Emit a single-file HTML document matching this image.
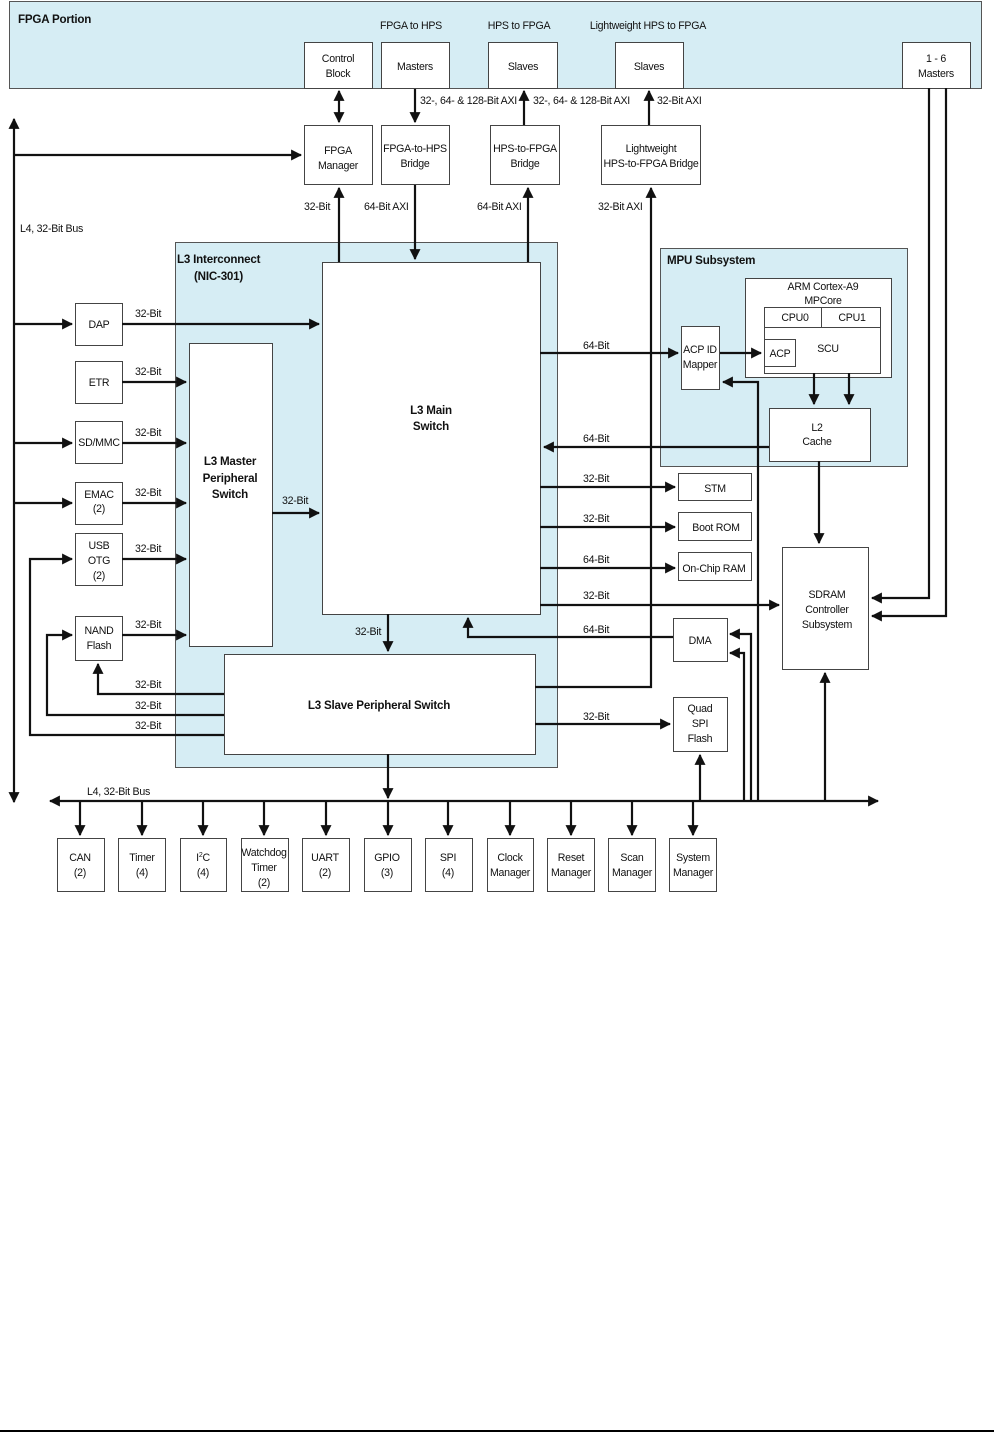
<!DOCTYPE html>
<html><head><meta charset="utf-8"><style>
html,body{margin:0;padding:0;background:#fff}
svg{display:block}
text{font-family:"Liberation Sans",sans-serif;font-size:10.6px;letter-spacing:-0.25px;fill:#111}
.b{font-weight:bold;font-size:11.6px;letter-spacing:-0.2px}
.c{text-anchor:middle}
.box{fill:#fff;stroke:#444;stroke-width:1}
.blue{fill:#d6edf4;stroke:#555;stroke-width:1}
.w{stroke:#111;stroke-width:2.2;fill:none}
</style></head><body>
<svg width="994" height="1433" viewBox="0 0 994 1433" xmlns="http://www.w3.org/2000/svg">
<defs>
<marker id="a" viewBox="0 0 10 10" refX="9" refY="5" markerWidth="5" markerHeight="5" orient="auto-start-reverse" markerUnits="strokeWidth"><path d="M0,0L10,5L0,10z" fill="#111"/></marker>
</defs>
<rect class="blue" x="9.5" y="1.5" width="972" height="87"/>
<text class="b" x="18" y="23">FPGA Portion</text>
<text class="c" x="411" y="29">FPGA to HPS</text>
<text class="c" x="519" y="29">HPS to FPGA</text>
<text class="c" x="648" y="29">Lightweight HPS to FPGA</text>
<rect class="box" x="304.5" y="42.5" width="68" height="46"/>
<text class="c" x="338" y="62">Control</text><text class="c" x="338" y="77">Block</text>
<rect class="box" x="381.5" y="42.5" width="68" height="46"/>
<text class="c" x="415" y="70">Masters</text>
<rect class="box" x="488.5" y="42.5" width="69" height="46"/>
<text class="c" x="523" y="70">Slaves</text>
<rect class="box" x="615.5" y="42.5" width="68" height="46"/>
<text class="c" x="649" y="70">Slaves</text>
<rect class="box" x="902.5" y="42.5" width="68" height="46"/>
<text class="c" x="936" y="62">1 - 6</text><text class="c" x="936" y="77">Masters</text>

<rect class="box" x="304.5" y="125.5" width="68" height="59"/>
<text class="c" x="338" y="154">FPGA</text><text class="c" x="338" y="169">Manager</text>
<rect class="box" x="381.5" y="125.5" width="68" height="59"/>
<text class="c" x="415" y="152">FPGA-to-HPS</text><text class="c" x="415" y="167">Bridge</text>
<rect class="box" x="490.5" y="125.5" width="69" height="59"/>
<text class="c" x="525" y="152">HPS-to-FPGA</text><text class="c" x="525" y="167">Bridge</text>
<rect class="box" x="601.5" y="125.5" width="99" height="59"/>
<text class="c" x="651" y="152">Lightweight</text><text class="c" x="651" y="167">HPS-to-FPGA Bridge</text>

<path class="w" d="M339,91V122" marker-start="url(#a)" marker-end="url(#a)"/>
<path class="w" d="M415,89V122" marker-end="url(#a)"/>
<text x="420" y="104">32-, 64- &amp; 128-Bit AXI</text>
<path class="w" d="M524,125V91" marker-end="url(#a)"/>
<text x="533" y="104">32-, 64- &amp; 128-Bit AXI</text>
<path class="w" d="M649,125V91" marker-end="url(#a)"/>
<text x="657" y="104">32-Bit AXI</text>

<text x="304" y="210">32-Bit</text>
<text x="364" y="210">64-Bit AXI</text>
<text x="477" y="210">64-Bit AXI</text>
<text x="598" y="210">32-Bit AXI</text>

<path class="w" d="M14,800V119" marker-end="url(#a)"/>
<path class="w" d="M14,800V802" marker-end="url(#a)"/>
<path class="w" d="M14,155H301" marker-end="url(#a)"/>
<text x="20" y="232">L4, 32-Bit Bus</text>

<rect class="blue" x="175.5" y="242.5" width="382" height="525"/>
<text class="b" x="177" y="263">L3 Interconnect</text>
<text class="b" x="194" y="280">(NIC-301)</text>
<rect class="box" x="322.5" y="262.5" width="218" height="352"/>
<text class="b c" x="431" y="414">L3 Main</text><text class="b c" x="431" y="430">Switch</text>
<rect class="box" x="189.5" y="343.5" width="83" height="303"/>
<text class="b c" x="230" y="465">L3 Master</text><text class="b c" x="230" y="482">Peripheral</text><text class="b c" x="230" y="498">Switch</text>
<rect class="box" x="224.5" y="654.5" width="311" height="100"/>
<text class="b c" x="379" y="709">L3 Slave Peripheral Switch</text>

<path class="w" d="M339,262V188" marker-end="url(#a)"/>
<path class="w" d="M415,185V259" marker-end="url(#a)"/>
<path class="w" d="M528,262V188" marker-end="url(#a)"/>
<path class="w" d="M535,687H651V188" marker-end="url(#a)"/>

<rect class="box" x="75.5" y="303.5" width="47" height="42"/><text class="c" x="99" y="328">DAP</text>
<rect class="box" x="75.5" y="361.5" width="47" height="42"/><text class="c" x="99" y="386">ETR</text>
<rect class="box" x="75.5" y="421.5" width="47" height="42"/><text class="c" x="99" y="446">SD/MMC</text>
<rect class="box" x="75.5" y="482.5" width="47" height="42"/><text class="c" x="99" y="498">EMAC</text><text class="c" x="99" y="512">(2)</text>
<rect class="box" x="75.5" y="533.5" width="47" height="52"/><text class="c" x="99" y="549">USB</text><text class="c" x="99" y="564">OTG</text><text class="c" x="99" y="579">(2)</text>
<rect class="box" x="75.5" y="616.5" width="47" height="44"/><text class="c" x="99" y="634">NAND</text><text class="c" x="99" y="649">Flash</text>

<path class="w" d="M14,324H72" marker-end="url(#a)"/>
<path class="w" d="M14,443H72" marker-end="url(#a)"/>
<path class="w" d="M14,503H72" marker-end="url(#a)"/>
<path class="w" d="M122,324H319" marker-end="url(#a)"/>
<path class="w" d="M122,382H186" marker-end="url(#a)"/>
<path class="w" d="M122,443H186" marker-end="url(#a)"/>
<path class="w" d="M122,503H186" marker-end="url(#a)"/>
<path class="w" d="M122,559H186" marker-end="url(#a)"/>
<path class="w" d="M122,635H186" marker-end="url(#a)"/>
<path class="w" d="M272,513H319" marker-end="url(#a)"/>
<text x="135" y="317">32-Bit</text>
<text x="135" y="375">32-Bit</text>
<text x="135" y="436">32-Bit</text>
<text x="135" y="496">32-Bit</text>
<text x="135" y="552">32-Bit</text>
<text x="135" y="628">32-Bit</text>
<text x="282" y="504">32-Bit</text>

<path class="w" d="M224,694H98V664" marker-end="url(#a)"/>
<path class="w" d="M224,715H47V635H72" marker-end="url(#a)"/>
<path class="w" d="M224,735H30V559H72" marker-end="url(#a)"/>
<text x="135" y="688">32-Bit</text>
<text x="135" y="709">32-Bit</text>
<text x="135" y="729">32-Bit</text>

<path class="w" d="M388,614V651" marker-end="url(#a)"/>
<text x="355" y="635">32-Bit</text>
<path class="w" d="M388,754V798" marker-end="url(#a)"/>

<rect class="blue" x="660.5" y="248.5" width="247" height="218"/>
<text class="b" x="667" y="264">MPU Subsystem</text>
<rect class="box" x="745.5" y="278.5" width="146" height="99"/>
<text class="c" x="823" y="290">ARM Cortex-A9</text><text class="c" x="823" y="304">MPCore</text>
<rect class="box" x="764.5" y="307.5" width="116" height="66"/>
<line x1="764" y1="327.5" x2="880" y2="327.5" stroke="#444"/>
<line x1="821.5" y1="307" x2="821.5" y2="327" stroke="#444"/>
<text class="c" x="795" y="321">CPU0</text><text class="c" x="852" y="321">CPU1</text>
<text class="c" x="828" y="352">SCU</text>
<rect class="box" x="764.5" y="339.5" width="31" height="27"/><text class="c" x="780" y="357">ACP</text>
<rect class="box" x="681.5" y="326.5" width="38" height="63"/>
<text class="c" x="700" y="353">ACP ID</text><text class="c" x="700" y="368">Mapper</text>
<rect class="box" x="769.5" y="408.5" width="101" height="53"/>
<text class="c" x="817" y="431">L2</text><text class="c" x="817" y="445">Cache</text>

<path class="w" d="M540,353H678" marker-end="url(#a)"/>
<text x="583" y="349">64-Bit</text>
<path class="w" d="M720,353H761" marker-end="url(#a)"/>
<path class="w" d="M814,373V404" marker-end="url(#a)"/>
<path class="w" d="M849,373V404" marker-end="url(#a)"/>
<path class="w" d="M769,447H544" marker-end="url(#a)"/>
<text x="583" y="442">64-Bit</text>
<path class="w" d="M819,461V543" marker-end="url(#a)"/>

<rect class="box" x="678.5" y="473.5" width="73" height="27"/><text class="c" x="715" y="492">STM</text>
<rect class="box" x="678.5" y="512.5" width="73" height="28"/><text class="c" x="716" y="531">Boot ROM</text>
<rect class="box" x="678.5" y="552.5" width="73" height="28"/><text class="c" x="714" y="572">On-Chip RAM</text>
<path class="w" d="M540,487H675" marker-end="url(#a)"/>
<path class="w" d="M540,527H675" marker-end="url(#a)"/>
<path class="w" d="M540,568H675" marker-end="url(#a)"/>
<text x="583" y="482">32-Bit</text>
<text x="583" y="522">32-Bit</text>
<text x="583" y="563">64-Bit</text>
<path class="w" d="M540,605H779" marker-end="url(#a)"/>
<text x="583" y="599">32-Bit</text>

<rect class="box" x="782.5" y="547.5" width="86" height="122"/>
<text class="c" x="827" y="598">SDRAM</text><text class="c" x="827" y="613">Controller</text><text class="c" x="827" y="628">Subsystem</text>

<rect class="box" x="673.5" y="618.5" width="54" height="43"/><text class="c" x="700" y="644">DMA</text>
<path class="w" d="M673,637H468V618" marker-end="url(#a)"/>
<text x="583" y="633">64-Bit</text>
<rect class="box" x="673.5" y="697.5" width="54" height="54"/>
<text class="c" x="700" y="712">Quad</text><text class="c" x="700" y="727">SPI</text><text class="c" x="700" y="742">Flash</text>
<path class="w" d="M535,724H670" marker-end="url(#a)"/>
<text x="583" y="720">32-Bit</text>

<path class="w" d="M929,88V598H872" marker-end="url(#a)"/>
<path class="w" d="M946,88V616H872" marker-end="url(#a)"/>
<path class="w" d="M758,801V382H723" marker-end="url(#a)"/>
<path class="w" d="M751,801V634H730" marker-end="url(#a)"/>
<path class="w" d="M744,801V653H730" marker-end="url(#a)"/>
<path class="w" d="M825,801V673" marker-end="url(#a)"/>
<path class="w" d="M700,801V755" marker-end="url(#a)"/>

<path class="w" d="M388,801H50" marker-end="url(#a)"/>
<path class="w" d="M388,801H878" marker-end="url(#a)"/>
<text x="87" y="795">L4, 32-Bit Bus</text>

<g>
<rect class="box" x="57.5" y="838.5" width="47" height="53"/><text class="c" x="80" y="861">CAN</text><text class="c" x="80" y="876">(2)</text>
<rect class="box" x="118.5" y="838.5" width="47" height="53"/><text class="c" x="142" y="861">Timer</text><text class="c" x="142" y="876">(4)</text>
<rect class="box" x="180.5" y="838.5" width="46" height="53"/><text class="c" x="203" y="861">I<tspan dy="-4" font-size="7">2</tspan><tspan dy="4">C</tspan></text><text class="c" x="203" y="876">(4)</text>
<rect class="box" x="241.5" y="838.5" width="47" height="53"/><text class="c" x="264" y="856">Watchdog</text><text class="c" x="264" y="871">Timer</text><text class="c" x="264" y="886">(2)</text>
<rect class="box" x="302.5" y="838.5" width="47" height="53"/><text class="c" x="325" y="861">UART</text><text class="c" x="325" y="876">(2)</text>
<rect class="box" x="364.5" y="838.5" width="47" height="53"/><text class="c" x="387" y="861">GPIO</text><text class="c" x="387" y="876">(3)</text>
<rect class="box" x="425.5" y="838.5" width="47" height="53"/><text class="c" x="448" y="861">SPI</text><text class="c" x="448" y="876">(4)</text>
<rect class="box" x="487.5" y="838.5" width="46" height="53"/><text class="c" x="510" y="861">Clock</text><text class="c" x="510" y="876">Manager</text>
<rect class="box" x="547.5" y="838.5" width="47" height="53"/><text class="c" x="571" y="861">Reset</text><text class="c" x="571" y="876">Manager</text>
<rect class="box" x="608.5" y="838.5" width="47" height="53"/><text class="c" x="632" y="861">Scan</text><text class="c" x="632" y="876">Manager</text>
<rect class="box" x="669.5" y="838.5" width="47" height="53"/><text class="c" x="693" y="861">System</text><text class="c" x="693" y="876">Manager</text>
</g>
<path class="w" d="M80,801V835" marker-end="url(#a)"/>
<path class="w" d="M142,801V835" marker-end="url(#a)"/>
<path class="w" d="M203,801V835" marker-end="url(#a)"/>
<path class="w" d="M264,801V835" marker-end="url(#a)"/>
<path class="w" d="M326,801V835" marker-end="url(#a)"/>
<path class="w" d="M388,801V835" marker-end="url(#a)"/>
<path class="w" d="M448,801V835" marker-end="url(#a)"/>
<path class="w" d="M510,801V835" marker-end="url(#a)"/>
<path class="w" d="M571,801V835" marker-end="url(#a)"/>
<path class="w" d="M632,801V835" marker-end="url(#a)"/>
<path class="w" d="M693,801V835" marker-end="url(#a)"/>

<line x1="0" y1="1431" x2="994" y2="1431" stroke="#000" stroke-width="2"/>
</svg>
</body></html>
